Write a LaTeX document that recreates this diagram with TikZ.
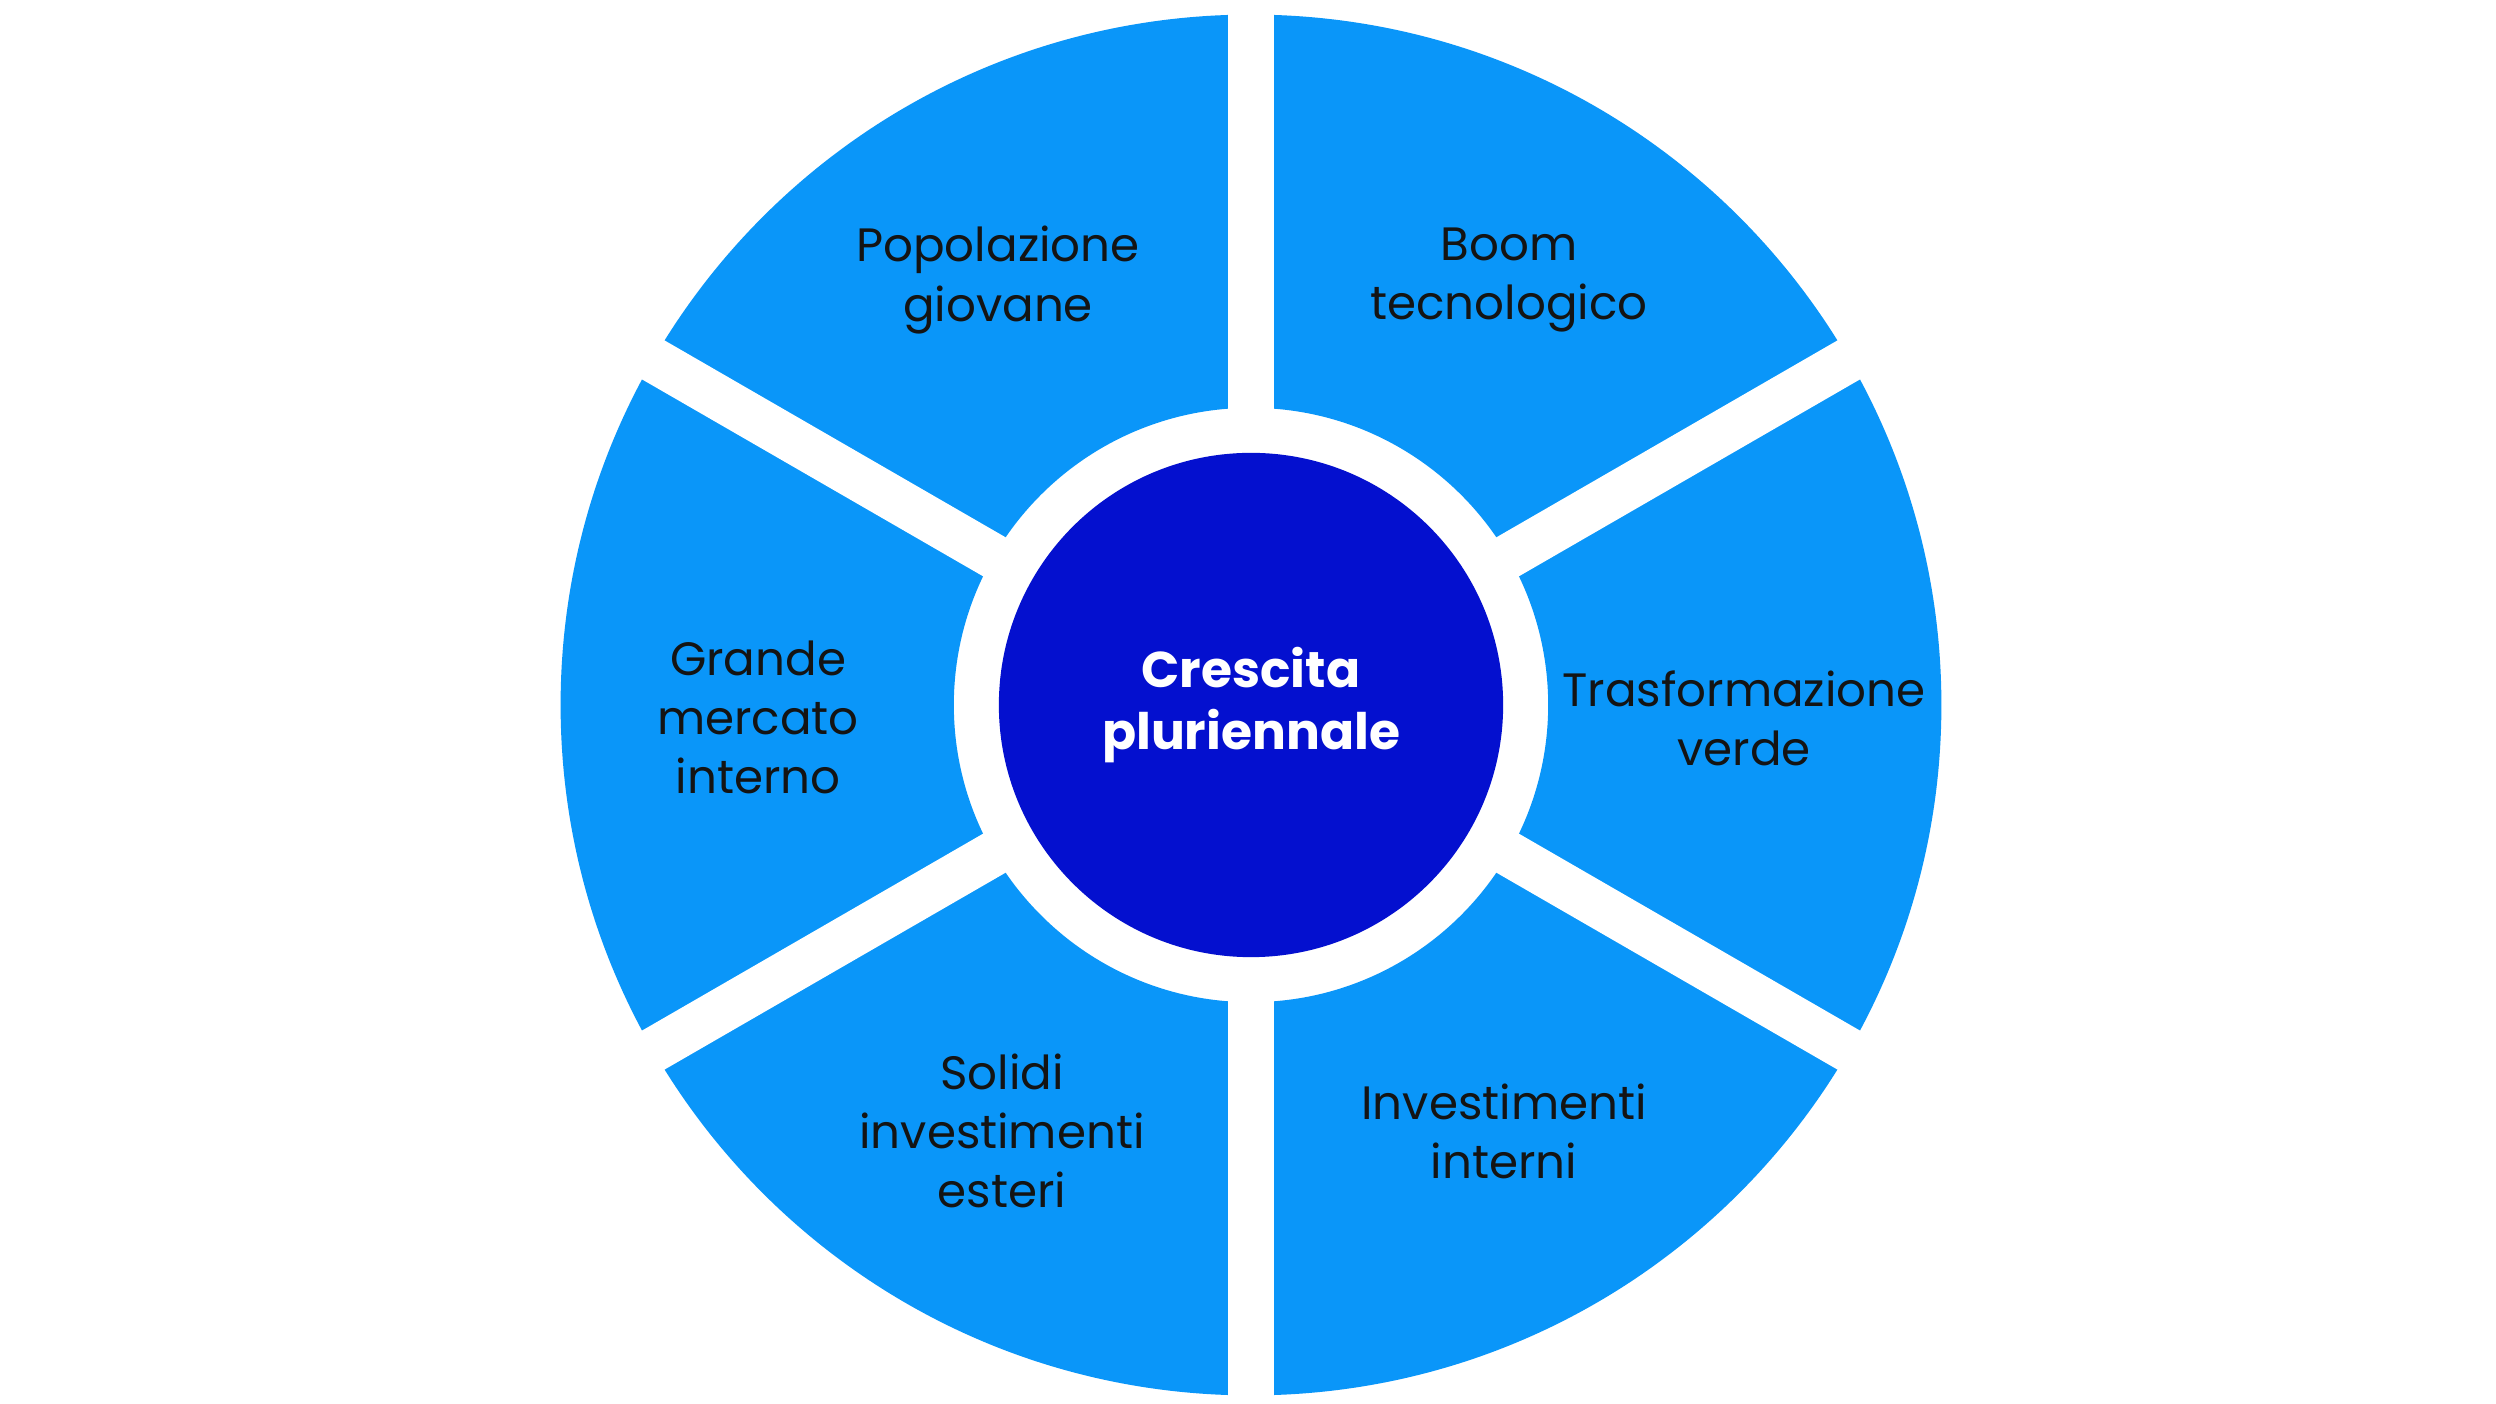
\documentclass[tikz,border=0pt]{standalone}
\usepackage{fontspec}
\setmainfont{Poppins}
\definecolor{seg}{HTML}{0A96F9}
\definecolor{core}{HTML}{0410CF}
\definecolor{txt}{HTML}{141414}
\begin{document}
\begin{tikzpicture}[x=0.01cm,y=-0.01cm,
  lbl/.style={align=center,text=txt,font=\fontsize{13.3pt}{16.8pt}\selectfont},
  gapline/.style={white,line width=0.45cm}]
\useasboundingbox[fill=white] (0,0) rectangle (2496,1404);
\coordinate (c) at (1251,705);
\fill[seg,even odd rule] (c) circle[radius=6.90cm] (c) circle[radius=2.97cm];
\foreach \a in {90,30,-30,-90,150,210}
  \draw[gapline] (c) -- ++(\a:7.2cm);
\node[circle,fill=core,minimum size=5.04cm,inner sep=0pt,text=white,align=center,
  font=\bfseries\fontsize{14.3pt}{17.5pt}\selectfont] (ctr) at (c) {Crescita\\pluriennale};
\node[lbl] (p) at (998,280) {Popolazione\\giovane};
\node[lbl] (b) at (1509,280) {Boom\\tecnologico};
\node[lbl] (g) at (758,717) {Grande\\mercato\\interno};
\node[lbl] (t) at (1744,718) {Trasformazione\\verde};
\node[lbl] (s) at (1002,1131) {Solidi\\investimenti\\esteri};
\node[lbl] (i) at (1504,1131) {Investimenti\\interni};
\end{tikzpicture}
\end{document}
